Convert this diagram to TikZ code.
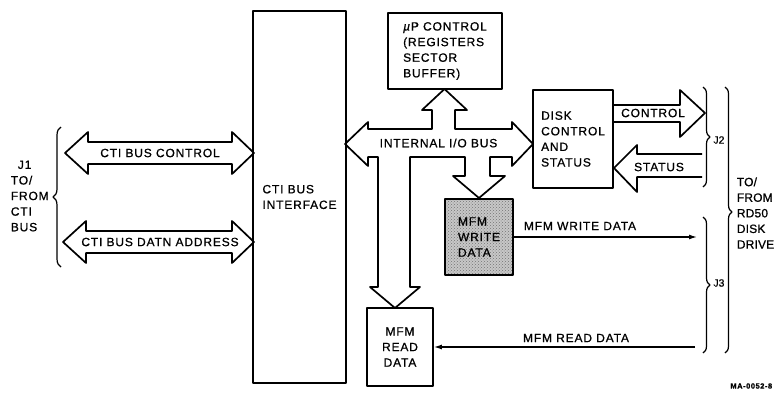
\documentclass[tikz,border=0pt]{standalone}
\usepackage{fontspec}
\setmainfont[LetterSpace=7,FakeBold=0.8]{Liberation Sans}
\usetikzlibrary{arrows.meta,decorations.pathreplacing,patterns}
\begin{document}
\begin{tikzpicture}[x=1pt,y=-1pt,line width=1.7pt,line join=round,
  every node/.style={font=\fontsize{12}{15.6}\selectfont,inner sep=0pt},
  box/.style={draw,align=left},
  sig/.style={line width=1.3pt,-{Latex[length=8pt,width=5pt]}},
  brc/.style={line width=1.2pt,decorate,decoration={brace,amplitude=7pt}},
  lbl/.style={align=left,anchor=west},
  jlbl/.style={anchor=west,font=\fontsize{10.5}{12}\selectfont\addfontfeature{LetterSpace=0}}]
\useasboundingbox (0,0) rectangle (774,410);

% boxes
\node[box,minimum width=93pt,minimum height=372pt] (cti) at (299.5,197) {CTI BUS\\INTERFACE};
\node[box,minimum width=114pt,minimum height=76pt] (up) at (445,51) {\textit{µ}P CONTROL\\(REGISTERS\\SECTOR\\BUFFER)};
\node[box,minimum width=80pt,minimum height=98pt] (dcs) at (573,139) {DISK\\CONTROL\\AND\\STATUS};
\node[box,minimum width=68pt,minimum height=76pt,preaction={fill=black!22},
      pattern=crosshatch dots,pattern color=black!55] (wr) at (479,237) {MFM\\WRITE\\DATA};
\node[box,align=center,minimum width=66pt,minimum height=78pt] (rd) at (400,347) {MFM\\READ\\DATA};

% CTI bus control
\draw (65,153) -- (88,132) -- (88,142) -- (232,142) -- (232,132) -- (254,153)
      -- (232,174) -- (232,164) -- (88,164) -- (88,174) -- cycle;
\node (cbc) at (160,153) {CTI BUS CONTROL};
% CTI bus data/address
\draw (63,242) -- (86,221) -- (86,231) -- (232,231) -- (232,221) -- (254,242)
      -- (232,263) -- (232,253) -- (86,253) -- (86,263) -- cycle;
\node (cbd) at (160,242) {CTI BUS DATN ADDRESS};

% internal I/O bus
\draw (345,144) -- (368,122) -- (368,129) -- (432,129) -- (432,110) -- (422,110)
      -- (444.5,89) -- (467,110) -- (455,110) -- (455,129) -- (512,129)
      -- (512,122) -- (533,144) -- (512,166) -- (512,157) -- (490,157)
      -- (490,176) -- (505,176) -- (479,198) -- (453,176) -- (465,176)
      -- (465,157) -- (410,157) -- (410,287) -- (420,287) -- (395,308)
      -- (370,287) -- (378,287) -- (378,157) -- (368,157) -- (368,166) -- cycle;
\node (iob) at (438.5,143) {INTERNAL I/O BUS};

% control / status
\draw (613,105) -- (680,105) -- (680,90) -- (705,113) -- (680,137) -- (680,122) -- (613,122);
\node (ctl) at (653,113) {CONTROL};
\draw (702,154) -- (637,154) -- (637,145) -- (614,168) -- (637,192) -- (637,177) -- (702,177);
\node (sts) at (659,167) {STATUS};

% MFM lines
\coordinate (wend) at (697,237);
\coordinate (rstart) at (695,347);
\draw[sig] (wr.east) -- (wend);
\node (wlab) at (580,226) {MFM WRITE DATA};
\draw[sig] (rstart) -- (rd.east);
\node (rlab) at (576,338) {MFM READ DATA};

% braces
\draw[brc,decoration={amplitude=8pt}] (61,267) -- (61,127);
\node[lbl] (j1) at (10,196) {\hspace{7pt}J1\\TO/\\FROM\\CTI\\BUS};
\draw[brc] (703,87) -- (703,187);
\node[jlbl] (j2) at (712.5,140) {J2};
\draw[brc] (703,217) -- (703,353);
\node[jlbl] (j3) at (712.5,283) {J3};
\draw[brc,decoration={aspect=0.47}] (725,87) -- (725,353);
\node[lbl,font=\fontsize{12}{15.6}\selectfont\addfontfeature{LetterSpace=1.5}] (rdd) at (736,213) {TO/\\FROM\\RD50\\DISK\\DRIVE};

\node[anchor=east,font=\fontsize{7.5}{9}\selectfont\bfseries] (ma) at (773,386) {MA-0052-8};
\end{tikzpicture}
\end{document}
